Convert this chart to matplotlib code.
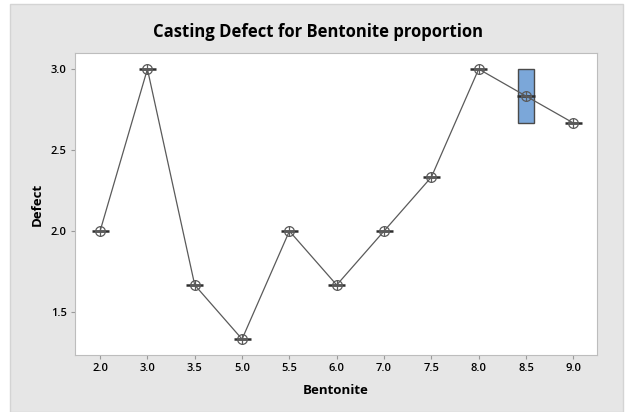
import numpy as np
import matplotlib.pyplot as plt
from matplotlib.patches import Rectangle

plt.rcParams['font.family'] = ['Open Sans', 'DejaVu Sans']

bentonite = ['2.0', '3.0', '3.5', '5.0', '5.5', '6.0', '7.0', '7.5', '8.0', '8.5', '9.0']
q1 = np.array([2.0, 3.0, 1.667, 1.333, 2.0, 1.667, 2.0, 2.333, 3.0, 2.667, 2.667])
q3 = np.array([2.0, 3.0, 1.667, 1.333, 2.0, 1.667, 2.0, 2.333, 3.0, 3.0, 2.667])
median = np.array([2.0, 3.0, 1.667, 1.333, 2.0, 1.667, 2.0, 2.333, 3.0, 2.833, 2.667])
mean = np.array([2.0, 3.0, 1.667, 1.333, 2.0, 1.667, 2.0, 2.333, 3.0, 2.833, 2.667])

fig = plt.figure(figsize=(6.28, 4.12), dpi=100)
fig.patch.set_facecolor('white')
fig.patches.append(Rectangle((10 / 628, 0), 613 / 628, 408 / 412, transform=fig.transFigure,
                             facecolor='#e6e6e6', edgecolor='#d4d4d4', lw=1, zorder=-5))

ax = fig.add_axes([75 / 628, 1 - 355 / 412, 522 / 628, 302 / 412])
ax.set_zorder(1)
ax.set_facecolor('white')
for s in ax.spines.values():
    s.set_color('#bdbdbd')

x = np.arange(len(bentonite))
heights = q3 - q1
boxed = heights > 0
ax.bar(x[boxed], heights[boxed], bottom=q1[boxed], width=0.34,
       color='#7ba7d9', edgecolor='#4a4a4a', lw=1, zorder=2)
ax.hlines(median, x - 0.18, x + 0.18, color='#2e2e2e', lw=1.8, zorder=3)
ax.plot(x, mean, '-', color='#5a5a5a', lw=0.9, zorder=4)
ax.plot(x, mean, 'o', ms=7, mfc='none', mec='#5a5a5a', mew=0.9, zorder=5)
ax.plot(x, mean, '+', ms=7, mec='#5a5a5a', mew=0.9, zorder=5)

ax.set_xlim(-0.53, 10.5)
ax.set_ylim(1.235, 3.099)
ax.set_xticks(x)
ax.set_xticklabels(bentonite)
ax.set_yticks([1.5, 2.0, 2.5, 3.0])
ax.set_yticklabels(['1.5', '2.0', '2.5', '3.0'])
ax.tick_params(length=3, color='#9a9a9a', labelsize=8, pad=3)
for lab in ax.get_xticklabels() + ax.get_yticklabels():
    lab.set_fontweight('semibold')

ax.set_xlabel('Bentonite', fontsize=9.5, fontweight='bold', labelpad=7)
ax.set_ylabel('Defect', fontsize=9.5, fontweight='bold', labelpad=5)
fig.text(318 / 628, 1 - 32 / 412, 'Casting Defect for Bentonite proportion',
         ha='center', va='center', fontsize=12, fontweight='bold')

fig.savefig('out.png', dpi=100)
